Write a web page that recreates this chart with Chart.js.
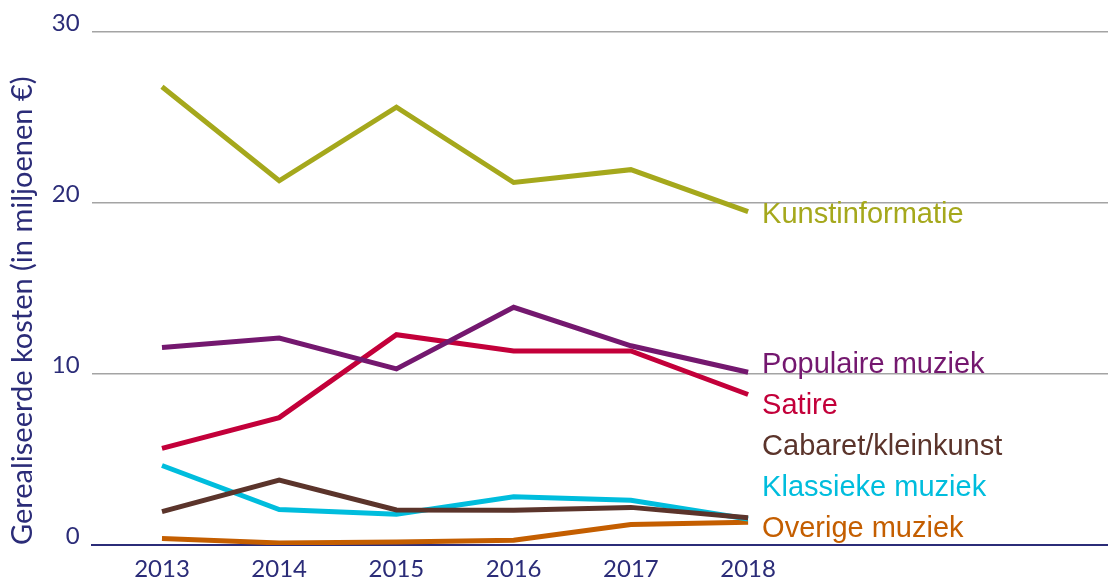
<!DOCTYPE html>
<html>
<head>
<meta charset="utf-8">
<script src="https://cdn.jsdelivr.net/npm/chart.js@4.4.1/dist/chart.umd.min.js"></script>
<style>
    html, body { margin: 0; padding: 0; background: #fff; }
    #wrap { width: 1108px; height: 583px; position: relative; }
</style>
</head>
<body>
<div id="wrap"><canvas id="lineChart"></canvas></div>
<script>
// Data (realised costs, in millions of euros)
const years = [2013, 2014, 2015, 2016, 2017, 2018];
const yTicks = [0, 10, 20, 30];

const kunstinformatie = [26.8, 21.3, 25.6, 21.2, 21.95, 19.5];
const populaireMuziek = [11.55, 12.1, 10.3, 13.9, 11.65, 10.1];
const satire = [5.65, 7.45, 12.3, 11.35, 11.35, 8.8];
const cabaret = [1.95, 3.8, 2.05, 2.03, 2.2, 1.6];
const klassiekeMuziek = [4.65, 2.07, 1.8, 2.82, 2.62, 1.52];
const overigeMuziek = [0.38, 0.12, 0.18, 0.28, 1.2, 1.33];

const seriesNames = ['Kunstinformatie', 'Populaire muziek', 'Satire', 'Cabaret/kleinkunst', 'Klassieke muziek', 'Overige muziek'];
const seriesValues = [kunstinformatie, populaireMuziek, satire, cabaret, klassiekeMuziek, overigeMuziek];
const seriesColors = ['#a5a81c', '#74186f', '#c3003a', '#5b342b', '#00bddd', '#c45e00'];

const navy = '#2b2c78';

// Series names drawn at the right end of each line
const endLabels = {
    id: 'endLabels',
    afterDatasetsDraw(chart) {
        const { ctx, scales: { x, y } } = chart;
        const lx = x.getPixelForValue(years[years.length - 1]) + 14;
        const zero = y.getPixelForValue(0);
        ctx.save();
        ctx.font = '29px "Liberation Sans", Arial, sans-serif';
        ctx.textBaseline = 'middle';
        ctx.textAlign = 'left';
        chart.data.datasets.forEach((ds, i) => {
            let ly;
            if (i === 0) {
                ly = y.getPixelForValue(ds.data[ds.data.length - 1].y) + 3;
            } else {
                ly = zero - 16 - (seriesNames.length - 1 - i) * 41;
            }
            ctx.fillStyle = ds.borderColor;
            ctx.fillText(ds.label, lx, ly);
        });
        ctx.restore();
    }
};

function initChart() {
    const ctx = document.getElementById('lineChart').getContext('2d');
    new Chart(ctx, {
        type: 'line',
        data: {
            datasets: seriesNames.map((name, i) => ({
                label: name,
                data: years.map((yr, j) => ({ x: yr, y: seriesValues[i][j] })),
                borderColor: seriesColors[i],
                backgroundColor: seriesColors[i],
                borderWidth: 5,
                borderCapStyle: 'butt',
                borderJoinStyle: 'miter',
                pointRadius: 0,
                tension: 0,
                fill: false
            }))
        },
        options: {
            responsive: true,
            maintainAspectRatio: false,
            animation: false,
            layout: { padding: { top: 32, right: 0, bottom: 0, left: 5 } },
            scales: {
                x: {
                    type: 'linear',
                    min: 2012.4,
                    max: 2021.07,
                    afterBuildTicks: (axis) => { axis.ticks = years.map(v => ({ value: v })); },
                    afterFit: (axis) => { axis.height = 38; },
                    grid: { display: false, drawTicks: false },
                    border: { display: true, color: navy, width: 2 },
                    ticks: {
                        color: navy,
                        padding: 17,
                        maxRotation: 0,
                        font: { family: 'Lato', size: 24, lineHeight: 0.583 },
                        callback: (v) => String(v)
                    }
                },
                y: {
                    min: 0,
                    max: 30,
                    afterBuildTicks: (axis) => { axis.ticks = yTicks.map(v => ({ value: v })); },
                    grid: {
                        drawTicks: false,
                        lineWidth: 1.5,
                        color: (c) => c.tick && c.tick.value === 0 ? 'rgba(0,0,0,0)' : '#a4a4a4'
                    },
                    border: { display: false },
                    ticks: {
                        color: navy,
                        padding: 12,
                        labelOffset: -9,
                        font: { family: 'Lato', size: 24 }
                    },
                    title: {
                        display: true,
                        text: 'Gerealiseerde kosten (in miljoenen €)',
                        color: navy,
                        align: 'start',
                        font: { family: 'Lato', size: 29 },
                        padding: { top: 0, bottom: 0 }
                    }
                }
            },
            plugins: {
                legend: { display: false },
                tooltip: { enabled: false }
            }
        },
        plugins: [endLabels]
    });
}

document.addEventListener('DOMContentLoaded', initChart);
</script>
</body>
</html>
